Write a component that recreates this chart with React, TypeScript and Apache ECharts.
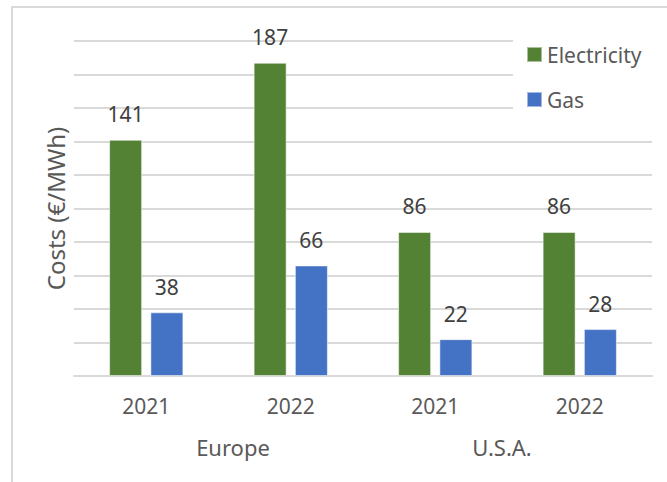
import React, { useEffect, useRef } from "react";
import * as echarts from "echarts";

const categories = ["2021", "2022", "2021", "2022"];
const groups = ["Europe", "U.S.A."];
const electricity = [141, 187, 86, 86];
const gas = [38, 66, 22, 28];
const seriesNames = ["Electricity", "Gas"];

const FONT = "'Noto Sans', sans-serif";

export default function App() {
  const ref = useRef<HTMLDivElement>(null);
  useEffect(() => {
    if (!ref.current) return;
    const chart = echarts.init(ref.current, null, { renderer: "svg" });
    const labelStyle = {
      show: true,
      position: "top" as const,
      distance: 15,
      color: "#404040",
      fontSize: 21,
      fontFamily: FONT,
    };
    chart.setOption({
      animation: false,
      backgroundColor: "#ffffff",
      grid: { left: 74, right: 15, top: 41, bottom: 106, containLabel: false },
      legend: {
        orient: "vertical",
        left: 513,
        top: 35,
        padding: [9, 12, 15, 13],
        backgroundColor: "#ffffff",
        itemWidth: 15,
        itemHeight: 15,
        itemGap: 24,
        icon: "rect",
        textStyle: { color: "#595959", fontSize: 21, fontFamily: FONT },
        data: seriesNames,
      },
      xAxis: {
        type: "category",
        data: categories,
        axisLine: { show: true, lineStyle: { color: "#d9d9d9", width: 2 } },
        axisTick: { show: false },
        axisLabel: { color: "#595959", fontSize: 21, fontFamily: FONT, margin: 19 },
      },
      yAxis: {
        type: "value",
        min: 0,
        max: 200,
        interval: 20,
        name: "Costs (€/MWh)",
        nameLocation: "middle",
        nameGap: 7,
        nameTextStyle: { color: "#595959", fontSize: 24, fontFamily: FONT },
        axisLabel: { show: false },
        axisLine: { show: false },
        axisTick: { show: false },
        splitLine: { lineStyle: { color: "#d9d9d9", width: 2 } },
      },
      series: [
        {
          name: seriesNames[0],
          type: "bar",
          data: electricity,
          barWidth: 33,
          barGap: "25%",
          itemStyle: { color: "#548235", borderColor: "rgba(255,255,255,0.5)", borderWidth: 1 },
          label: labelStyle,
        },
        {
          name: seriesNames[1],
          type: "bar",
          data: gas,
          barWidth: 33,
          barGap: "25%",
          itemStyle: { color: "#4472c4", borderColor: "rgba(255,255,255,0.5)", borderWidth: 1 },
          label: labelStyle,
        },
      ],
      graphic: [
        {
          type: "rect",
          silent: true,
          z: 100,
          shape: { x: 12, y: 7, width: 700, height: 520 },
          style: { fill: "none", stroke: "#d9d9d9", lineWidth: 2 },
        },
        {
          type: "text",
          x: 233,
          y: 447,
          style: {
            text: groups[0],
            fill: "#595959",
            fontSize: 22,
            fontFamily: FONT,
            align: "center",
            verticalAlign: "middle",
          },
        },
        {
          type: "text",
          x: 502,
          y: 447,
          style: {
            text: groups[1],
            fill: "#595959",
            fontSize: 22,
            fontFamily: FONT,
            align: "center",
            verticalAlign: "middle",
          },
        },
      ],
    });
    return () => chart.dispose();
  }, []);
  return (
    <div
      ref={ref}
      style={{ position: "absolute", left: 0, top: 0, width: 667, height: 482 }}
    />
  );
}
